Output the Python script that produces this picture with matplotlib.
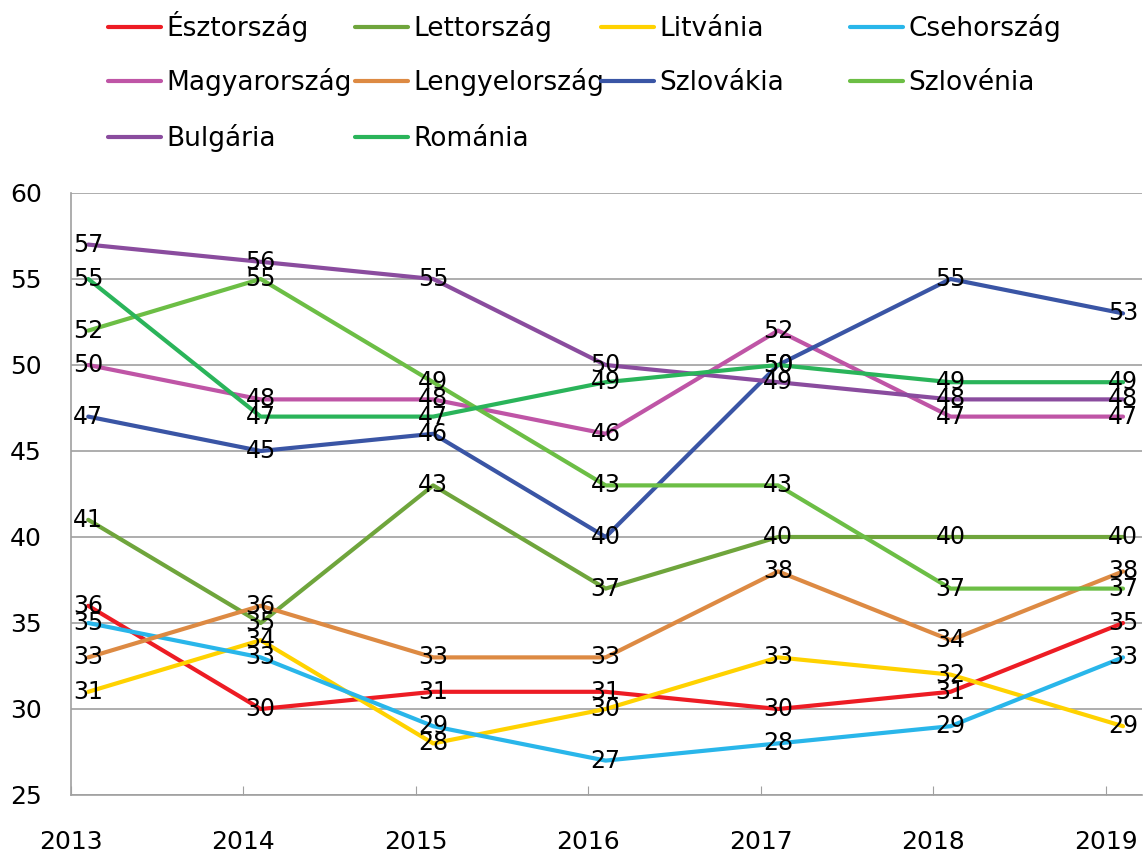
import numpy as np
import matplotlib.pyplot as plt

years = ["2013", "2014", "2015", "2016", "2017", "2018", "2019"]

esztorszag = [36, 30, 31, 31, 30, 31, 35]
lettorszag = [41, 35, 43, 37, 40, 40, 40]
litvania = [31, 34, 28, 30, 33, 32, 29]
csehorszag = [35, 33, 29, 27, 28, 29, 33]
magyarorszag = [50, 48, 48, 46, 52, 47, 47]
lengyelorszag = [33, 36, 33, 33, 38, 34, 38]
szlovakia = [47, 45, 46, 40, 50, 55, 53]
szlovenia = [52, 55, 49, 43, 43, 37, 37]
bulgaria = [57, 56, 55, 50, 49, 48, 48]
romania = [55, 47, 47, 49, 50, 49, 49]

names = ["Észtország", "Lettország", "Litvánia", "Csehország", "Magyarország",
         "Lengyelország", "Szlovákia", "Szlovénia", "Bulgária", "Románia"]
series = [esztorszag, lettorszag, litvania, csehorszag, magyarorszag,
          lengyelorszag, szlovakia, szlovenia, bulgaria, romania]
colors = ["#ED1C24", "#6FA53C", "#FFD200", "#29B6EA", "#BF55A6",
          "#DD8A43", "#3A55A5", "#6CBE45", "#8A4C9E", "#2AB45A"]

plt.rcParams['font.family'] = 'DejaVu Sans'

fig = plt.figure(figsize=(11.45, 8.52), dpi=100)
ax = fig.add_axes([71 / 1145, 1 - 795 / 852, (1142 - 71) / 1145, (795 - 193) / 852])

x = np.arange(len(years))
xp = x + 0.1  # points sit a bit right of the ticks

lines = []
for name, vals, c in zip(names, series, colors):
    ln, = ax.plot(xp, vals, color=c, lw=3, solid_capstyle='round', label=name, zorder=3)
    lines.append(ln)

for vals in series:
    for xi, v in zip(xp, vals):
        ax.text(xi, v, str(v), ha='center', va='center', fontsize=17, color='black', zorder=5)

ax.set_ylim(25, 60)
ax.set_yticks(range(25, 61, 5))
ax.set_xlim(0, 6.21)
ax.set_xticks(x)
ax.set_xticklabels(years)
ax.yaxis.grid(True, color='#A0A0A0', lw=1.2)
ax.set_axisbelow(True)
for s in ['top', 'right']:
    ax.spines[s].set_visible(False)
for s in ['left', 'bottom']:
    ax.spines[s].set_color('#A0A0A0')
    ax.spines[s].set_linewidth(1.2)
ax.tick_params(axis='y', length=0, pad=21, labelsize=18)
ax.tick_params(axis='x', direction='in', length=6.5, color='#A0A0A0', pad=25, labelsize=18)

# legend: 4 equal columns, 3 rows, filled row by row
# anchored by the bottom of each entry so baselines line up
col_x = [108, 355, 601, 850]
row_y = [27, 81, 137]
for i, (ln, name) in enumerate(zip(lines, names)):
    r, c = divmod(i, 4)
    fig.legend([ln], [name], loc='lower left',
               bbox_to_anchor=(col_x[c] / 1145, 1 - (row_y[r] + 15.5) / 852),
               frameon=False, fontsize=19, handlelength=2.0, handletextpad=0.2,
               borderpad=0, borderaxespad=0)

fig.savefig("out.png", dpi=100)
